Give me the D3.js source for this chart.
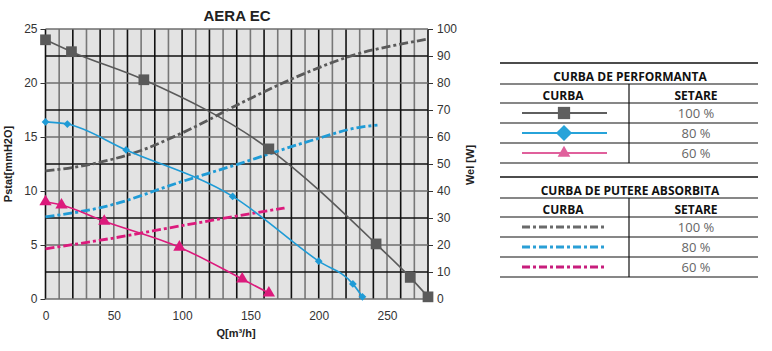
<!DOCTYPE html>
<html>
<head>
<meta charset="utf-8">
<script src="https://cdn.jsdelivr.net/npm/d3@7"></script>
<style>
  body { margin: 0; background: #fff; }
  svg text { font-family: "Liberation Sans", Arial, sans-serif; }
  .leg text { font-family: "Open Sans", sans-serif; }
</style>
</head>
<body>
<div class="canvas"></div>
<script>
// performance curves: Q [m3/h] vs Pstat [mmH2O]
const perfQ100 = [0, 19, 72, 163.5, 242, 267, 280];
const perfP100 = [24, 22.9, 20.3, 13.9, 5.1, 2.0, 0.2];
const perfQ80 = [0, 16, 59, 137, 200, 225, 232];
const perfP80 = [16.4, 16.2, 13.8, 9.5, 3.5, 1.4, 0.2];
const perfQ60 = [0, 11.7, 43, 98, 144, 163.5];
const perfP60 = [9.0, 8.7, 7.2, 4.8, 1.85, 0.55];

// absorbed power curves: Q [m3/h] vs Wel [W]
const powQ100 = [0, 30, 70, 100, 150, 190, 228, 260, 280];
const powW100 = [47.4, 49.6, 55.0, 61.5, 74.3, 83.6, 90.7, 94.4, 96.3];
const powQ80 = [0, 45, 98, 140, 194, 230, 243];
const powW80 = [30.4, 34.4, 43.2, 49.8, 58.6, 63.6, 64.4];
const powQ60 = [0, 50, 98, 150, 175];
const powW60 = [18.6, 22.6, 27, 31.6, 33.7];

const xTicks = [0, 50, 100, 150, 200, 250];
const yLeftTicks = [0, 5, 10, 15, 20, 25];
const yRightTicks = [0, 10, 20, 30, 40, 50, 60, 70, 80, 90, 100];
const settings = ['100 %', '80 %', '60 %'];

const colors = ['#5a5a5a', '#1f9bd6', '#dc1a7c'];
const legColors = ['#5f5f5f', '#27a3d9', '#e0609c'];
const powLegColors = ['#6a6a6a', '#2a9fd6', '#c81d7c'];

const svg = d3.select('.canvas')
  .append('svg')
    .attr('width', 772)
    .attr('height', 351);

svg.append('rect').attr('width', 772).attr('height', 351).attr('fill', '#fff');

const x = d3.scaleLinear().domain([0, 280]).range([45.5, 428]);
const yL = d3.scaleLinear().domain([0, 25]).range([299, 29]);
const yR = d3.scaleLinear().domain([0, 100]).range([299, 29]);

// plot background
svg.append('rect')
  .attr('x', x(0)).attr('y', yL(25))
  .attr('width', x(280) - x(0)).attr('height', yL(0) - yL(25))
  .attr('fill', '#e3e3e3');

// grid: vertical every 10, horizontal every 2.5 (alternating black / grey)
const grid = svg.append('g');
d3.range(0, 281, 10).forEach((q, i) => {
  grid.append('line')
    .attr('x1', x(q)).attr('x2', x(q))
    .attr('y1', yL(25)).attr('y2', yL(0))
    .attr('stroke', i % 2 ? '#777' : '#111')
    .attr('stroke-width', 1.6);
});
d3.range(0, 25.1, 2.5).forEach((p, i) => {
  grid.append('line')
    .attr('x1', x(0)).attr('x2', x(280))
    .attr('y1', yL(p)).attr('y2', yL(p))
    .attr('stroke', i % 2 ? '#111' : '#6e6e6e')
    .attr('stroke-width', 1.6);
});

// axes
const xAxis = d3.axisBottom(x).tickValues(xTicks).tickSize(0).tickPadding(12);
const yAxisL = d3.axisLeft(yL).tickValues(yLeftTicks).tickSize(5).tickPadding(3);
const yAxisR = d3.axisRight(yR).tickValues(yRightTicks).tickSize(5).tickPadding(4);

const xg = svg.append('g').attr('transform', `translate(0, ${yL(0)})`).call(xAxis);
const ylg = svg.append('g').attr('transform', `translate(${x(0)}, 0)`).call(yAxisL);
const yrg = svg.append('g').attr('transform', `translate(${x(280)}, 0)`).call(yAxisR);
[xg, ylg, yrg].forEach(g => {
  g.select('.domain').remove();
  g.selectAll('line').attr('stroke', '#333');
  g.selectAll('text').attr('font-size', 12).attr('fill', '#333')
    .style('font-family', '"Liberation Sans", Arial, sans-serif');
});

// titles
svg.append('text').attr('x', 237).attr('y', 21)
  .attr('text-anchor', 'middle').attr('font-size', 15).attr('font-weight', 'bold')
  .attr('fill', '#222').text('AERA EC');
svg.append('text').attr('x', 236).attr('y', 337)
  .attr('text-anchor', 'middle').attr('font-size', 11).attr('font-weight', 'bold')
  .attr('fill', '#222').text('Q[m³/h]');
svg.append('text').attr('transform', 'translate(12, 164) rotate(-90)')
  .attr('text-anchor', 'middle').attr('font-size', 11).attr('font-weight', 'bold')
  .attr('fill', '#222').text('Pstat[mmH2O]');
svg.append('text').attr('transform', 'translate(474, 165) rotate(-90)')
  .attr('text-anchor', 'middle').attr('font-size', 11).attr('font-weight', 'bold')
  .attr('fill', '#222').text('Wel [W]');

// power curves (right axis)
const powLine = d3.line().x(d => x(d[0])).y(d => yR(d[1])).curve(d3.curveMonotoneX);
const powSeries = [[powQ100, powW100], [powQ80, powW80], [powQ60, powW60]];
powSeries.forEach(([qs, ws], i) => {
  svg.append('path')
    .datum(qs.map((q, j) => [q, ws[j]]))
    .attr('d', powLine)
    .attr('fill', 'none')
    .attr('stroke', colors[i])
    .attr('stroke-width', 2.8)
    .attr('stroke-dasharray', '9,3,3,3');
});

// performance curves (left axis)
const perfLine = d3.line().x(d => x(d[0])).y(d => yL(d[1])).curve(d3.curveMonotoneX);
const perfSeries = [[perfQ100, perfP100], [perfQ80, perfP80], [perfQ60, perfP60]];
// diamond = square turned 45deg
const symbols = [d3.symbol(d3.symbolSquare, 115), d3.symbol(d3.symbolSquare, 30), d3.symbol(d3.symbolTriangle, 65)];
const rot = [0, 45, 0];
perfSeries.forEach(([qs, ps], i) => {
  const pts = qs.map((q, j) => [q, ps[j]]);
  svg.append('path')
    .datum(pts)
    .attr('d', perfLine)
    .attr('fill', 'none')
    .attr('stroke', colors[i])
    .attr('stroke-width', 1.6);
  svg.append('g').selectAll('path')
    .data(pts)
    .enter()
    .append('path')
      .attr('d', symbols[i])
      .attr('transform', d => `translate(${x(d[0])}, ${yL(d[1])}) rotate(${rot[i]})`)
      .attr('fill', colors[i]);
});

// legend tables
const leg = svg.append('g').attr('class', 'leg');
const lx0 = 500, lx1 = 758, ldiv = 629;
function hline(y, w) {
  leg.append('line').attr('x1', lx0).attr('x2', lx1).attr('y1', y).attr('y2', y)
    .attr('stroke', '#111').attr('stroke-width', w || 1.2);
}
function table(top, title, rowColors, power) {
  hline(top, 1.5);
  leg.append('text').attr('x', 630).attr('y', top + 18).attr('text-anchor', 'middle')
    .attr('font-size', 12).attr('font-weight', 'bold').attr('fill', '#111').text(title);
  hline(top + 21);
  leg.append('line').attr('x1', ldiv).attr('x2', ldiv).attr('y1', top + 21).attr('y2', top + 100)
    .attr('stroke', '#111').attr('stroke-width', 1.2);
  leg.append('text').attr('x', 563).attr('y', top + 37).attr('text-anchor', 'middle')
    .attr('font-size', 12).attr('font-weight', 'bold').attr('fill', '#111').text('CURBA');
  leg.append('text').attr('x', 696).attr('y', top + 37).attr('text-anchor', 'middle')
    .attr('font-size', 12).attr('font-weight', 'bold').attr('fill', '#111').text('SETARE');
  hline(top + 40);
  settings.forEach((s, i) => {
    const rt = top + 40 + i * 20;
    const cy = rt + 10;
    if (power) {
      leg.append('line').attr('x1', 522).attr('x2', 607).attr('y1', cy).attr('y2', cy)
        .attr('stroke', rowColors[i]).attr('stroke-width', 3).attr('stroke-dasharray', '8,3,3,3');
    } else {
      leg.append('line').attr('x1', 522).attr('x2', 607).attr('y1', cy).attr('y2', cy)
        .attr('stroke', rowColors[i]).attr('stroke-width', 2);
      leg.append('path').attr('d', d3.symbol([d3.symbolSquare, d3.symbolSquare, d3.symbolTriangle][i], [150, 130, 70][i]))
        .attr('transform', `translate(564, ${cy}) rotate(${i === 1 ? 45 : 0})`).attr('fill', rowColors[i]);
    }
    leg.append('text').attr('x', 696).attr('y', cy + 5).attr('text-anchor', 'middle')
      .attr('font-size', 13).attr('fill', '#666').text(s);
    hline(rt + 20);
  });
}
table(63, 'CURBA DE PERFORMANTA', legColors, false);
table(177, 'CURBA DE PUTERE ABSORBITA', powLegColors, true);
</script>
</body>
</html>
